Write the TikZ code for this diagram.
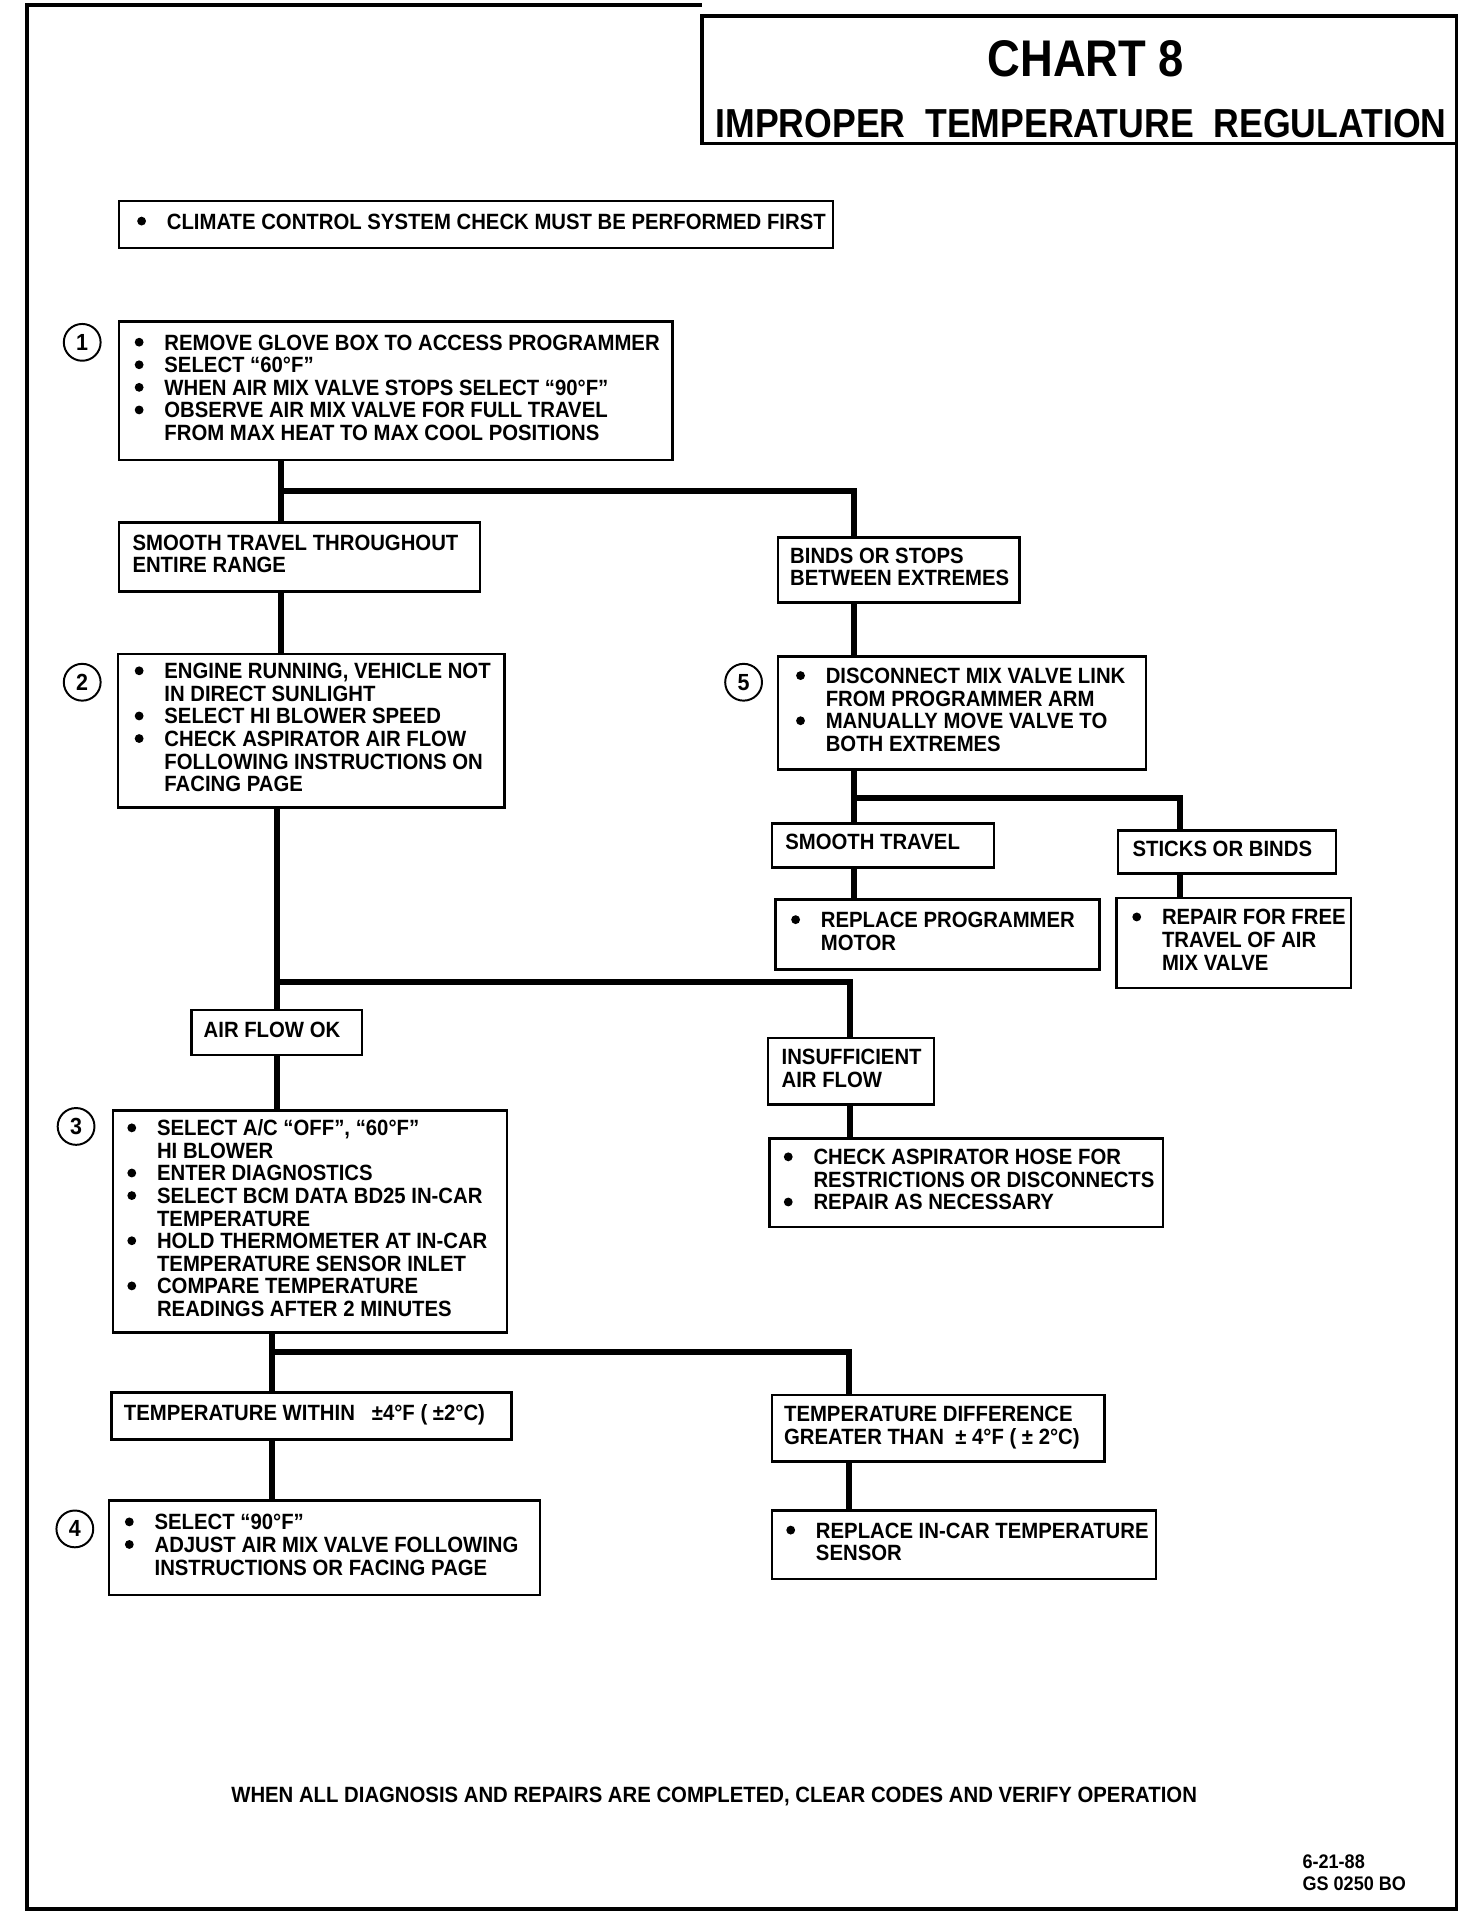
\documentclass[tikz,border=0pt]{standalone}
\usepackage{fontspec}
\setmainfont{Liberation Sans}[FakeStretch=0.92]
\newfontfamily\headfont{Liberation Sans}[FakeStretch=0.88]
\newcommand{\bul}{\llap{\tikz[baseline={(0,-6.5pt)}] \fill (0,0) circle (3.6pt);\hspace{17pt}}}
\newcommand{\boxtext}[3]{\makebox[#1][l]{\hspace*{#2}\begin{tabular}{@{}l@{}}#3\end{tabular}}}

\begin{document}
\begin{tikzpicture}[x=1pt, y=-1pt]
    \tikzstyle{every node} = [font=\fontsize{18}{18.4}\selectfont\bfseries]
    \tikzstyle{box} = [draw, line width=2pt, anchor=north west, inner sep=0pt]
    \tikzstyle{num} = [draw, circle, line width=1.6pt, minimum size=30pt, inner sep=0pt, font=\fontsize{19}{19}\selectfont\bfseries]
    \tikzstyle{link} = [line width=5pt]
    \tikzstyle{frame} = [line width=3pt]
    \useasboundingbox (0,0) rectangle (1200,1568);

    \draw[frame] (572,4) -- (22,4) -- (22,1556) -- (1187,1556) -- (1187,13);
    \draw[frame] (572,13) rectangle (1187,117);
    \node (chart) [font=\headfont\fontsize{42}{42}\selectfont\bfseries] at (885,48) {CHART 8};
    \node (heading) [font=\headfont\fontsize{33}{33}\selectfont\bfseries] at (881,101) {IMPROPER\ \ TEMPERATURE\ \ REGULATION};

    \node (first) [box, minimum height=38pt] at (96,163) {\boxtext{582pt}{39pt}{\bul CLIMATE CONTROL SYSTEM CHECK MUST BE PERFORMED FIRST}};

    \node (n1) [num] at (67,279) {1};
    \node (step1) [box, minimum height=113pt] at (96,261) {\boxtext{451pt}{37pt}{\bul REMOVE GLOVE BOX TO ACCESS PROGRAMMER\\ \bul SELECT “60°F”\\ \bul WHEN AIR MIX VALVE STOPS SELECT “90°F”\\ \bul OBSERVE AIR MIX VALVE FOR FULL TRAVEL\\ FROM MAX HEAT TO MAX COOL POSITIONS}};
    \node (smooth) [box, minimum height=56pt] at (96,425) {\boxtext{294pt}{11pt}{SMOOTH TRAVEL THROUGHOUT\\ ENTIRE RANGE}};
    \node (binds) [box, minimum height=53pt] at (633,437) {\boxtext{197pt}{10pt}{BINDS OR STOPS\\ BETWEEN EXTREMES}};

    \node (n2) [num] at (67,556) {2};
    \node (step2) [box, minimum height=125pt] at (95,532) {\boxtext{315pt}{38pt}{\bul ENGINE RUNNING, VEHICLE NOT\\ IN DIRECT SUNLIGHT\\ \bul SELECT HI BLOWER SPEED\\ \bul CHECK ASPIRATOR AIR FLOW\\ FOLLOWING INSTRUCTIONS ON\\ FACING PAGE}};
    \node (n5) [num] at (606,556) {5};
    \node (step5) [box, minimum height=92pt] at (633,534) {\boxtext{300pt}{39pt}{\bul DISCONNECT MIX VALVE LINK\\ FROM PROGRAMMER ARM\\ \bul MANUALLY MOVE VALVE TO\\ BOTH EXTREMES}};
    \node (smtr) [box, minimum height=36pt] at (628,670) {\boxtext{181pt}{11pt}{SMOOTH TRAVEL}};
    \node (sticks) [box, minimum height=35pt] at (910,676) {\boxtext{178pt}{12pt}{STICKS OR BINDS}};
    \node (motor) [box, minimum height=57pt] at (631,732) {\boxtext{264pt}{37pt}{\bul REPLACE PROGRAMMER\\ MOTOR}};
    \node (repair) [box, minimum height=73pt] at (909,731) {\boxtext{191pt}{37pt}{\bul REPAIR FOR FREE\\ TRAVEL OF AIR\\ MIX VALVE}};

    \node (airok) [box, minimum height=37pt] at (155,822) {\boxtext{139pt}{10pt}{AIR FLOW OK}};
    \node (lowflow) [box, minimum height=54pt] at (625,845) {\boxtext{135pt}{11pt}{INSUFFICIENT\\ AIR FLOW}};
    \node (hose) [box, minimum height=72pt] at (626,927) {\boxtext{321pt}{36pt}{\bul CHECK ASPIRATOR HOSE FOR\\ RESTRICTIONS OR DISCONNECTS\\ \bul REPAIR AS NECESSARY}};

    \node (n3) [num] at (62,918) {3};
    \node (step3) [box, minimum height=181pt] at (91,904) {\boxtext{321pt}{36pt}{\bul SELECT A/C “OFF”, “60°F”\\ HI BLOWER\\ \bul ENTER DIAGNOSTICS\\ \bul SELECT BCM DATA BD25 IN-CAR\\ TEMPERATURE\\ \bul HOLD THERMOMETER AT IN-CAR\\ TEMPERATURE SENSOR INLET\\ \bul COMPARE TEMPERATURE\\ READINGS AFTER 2 MINUTES}};
    \node (tempok) [box, minimum height=38pt] at (90,1134) {\boxtext{326pt}{10pt}{TEMPERATURE WITHIN\ \ \ ±4°F ( ±2°C)}};
    \node (tempbad) [box, minimum height=54pt] at (628,1136) {\boxtext{271pt}{10pt}{TEMPERATURE DIFFERENCE\\ GREATER THAN\ \ ±\ 4°F\ ( ±\ 2°C)}};

    \node (n4) [num] at (61,1246) {4};
    \node (step4) [box, minimum height=77pt] at (88,1222) {\boxtext{351pt}{37pt}{\bul SELECT “90°F”\\ \bul ADJUST AIR MIX VALVE FOLLOWING\\ INSTRUCTIONS OR FACING PAGE}};
    \node (sensor) [box, minimum height=56pt] at (628,1230) {\boxtext{313pt}{36pt}{\bul REPLACE IN-CAR TEMPERATURE\\ SENSOR}};

    \node (footer) at (582,1464) {WHEN ALL DIAGNOSIS AND REPAIRS ARE COMPLETED, CLEAR CODES AND VERIFY OPERATION};
    \node (stamp) [anchor=west, align=left, font=\fontsize{16}{18}\selectfont\bfseries] at (1058,1526) {6-21-88\\ GS 0250 BO};

    \coordinate (j1) at (229,400);
    \coordinate (j1r) at (696,400);
    \coordinate (j2r) at (962,650);
    \coordinate (j3) at (226,800);
    \coordinate (j3r) at (693,800);
    \coordinate (j4) at (222,1102);
    \coordinate (j4r) at (692,1102);

    \draw[link] (step1.south -| j1) -- (smooth.north -| j1);
    \draw[link] (j1) -- (j1r) -- (binds.north -| j1r);
    \draw[link] (smooth.south -| j1) -- (step2.north -| j1);
    \draw[link] (binds.south -| j1r) -- (step5.north -| j1r);
    \draw[link] (step5.south -| j1r) -- (smtr.north -| j1r);
    \draw[link] (j1r |- j2r) -- (j2r) -- (sticks.north -| j2r);
    \draw[link] (smtr.south -| j1r) -- (motor.north -| j1r);
    \draw[link] (sticks.south -| j2r) -- (repair.north -| j2r);
    \draw[link] (step2.south -| j3) -- (airok.north -| j3);
    \draw[link] (j3) -- (j3r) -- (lowflow.north -| j3r);
    \draw[link] (airok.south -| j3) -- (step3.north -| j3);
    \draw[link] (lowflow.south -| j3r) -- (hose.north -| j3r);
    \draw[link] (step3.south -| j4) -- (tempok.north -| j4);
    \draw[link] (j4) -- (j4r) -- (tempbad.north -| j4r);
    \draw[link] (tempok.south -| j4) -- (step4.north -| j4);
    \draw[link] (tempbad.south -| j4r) -- (sensor.north -| j4r);
\end{tikzpicture}
\end{document}
